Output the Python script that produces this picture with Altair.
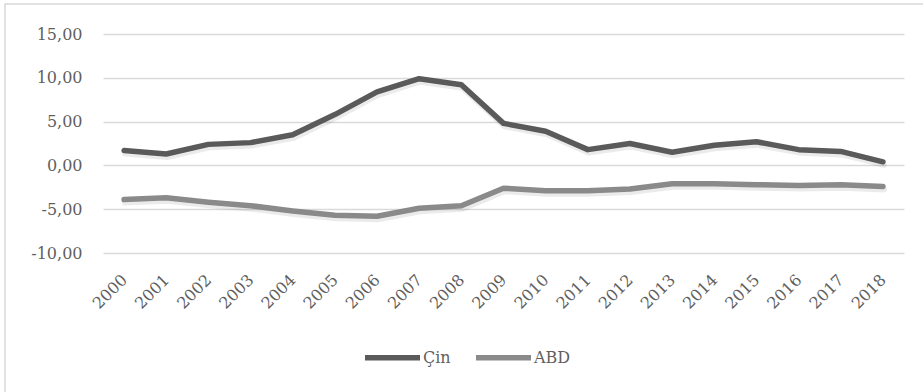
import altair as alt
import pandas as pd

# Current account balance (% of GDP), 2000-2018
years = [str(y) for y in range(2000, 2019)]
cin = [1.7, 1.3, 2.4, 2.6, 3.5, 5.8, 8.4, 9.9, 9.2, 4.8, 3.9, 1.8, 2.5, 1.5, 2.3, 2.7, 1.8, 1.6, 0.4]
abd = [-3.9, -3.7, -4.2, -4.6, -5.2, -5.7, -5.8, -4.9, -4.6, -2.6, -2.9, -2.9, -2.7, -2.1, -2.1, -2.2, -2.3, -2.2, -2.4]
series = ["Çin", "ABD"]
colors = ["#5a5a5a", "#8a8a8a"]

rows = []
for name, vals in zip(series, [cin, abd]):
    for yr, v in zip(years, vals):
        rows.append({"yil": yr, "deger": v, "seri": name})
df = pd.DataFrame(rows)

FONT = "DejaVu Serif"
TXT = "#5f5f5f"
W, H = 801, 219

x_enc = alt.X(
    "yil:O",
    sort=years,
    scale=alt.Scale(type="point", padding=0.5),
    axis=alt.Axis(
        title=None, labelAngle=-45, labelAlign="right", labelBaseline="middle",
        labelPadding=24, ticks=False, domain=False, grid=False,
        labelFont=FONT, labelFontSize=16, labelColor=TXT,
    ),
)
y_enc = alt.Y(
    "deger:Q",
    scale=alt.Scale(domain=[-10, 15], nice=False, zero=False),
    axis=alt.Axis(
        title=None, values=[-10, -5, 0, 5, 10, 15], ticks=False, domain=False,
        labelPadding=21, labelFont=FONT, labelFontSize=16, labelColor=TXT,
        labelExpr="(datum.value < 0 ? '-' : '') + replace(format(abs(datum.value), '.2f'), '.', ',')",
        gridColor="#d9d9d9", gridWidth=1.5,
    ),
)

shadow = alt.Chart(df).mark_line(
    strokeWidth=6, strokeCap="round", strokeJoin="round",
    color="#000000", opacity=0.08, yOffset=3, xOffset=1,
).encode(x=x_enc, y=y_enc, detail="seri:N")

lines = alt.Chart(df).mark_line(
    strokeWidth=5.5, strokeCap="round", strokeJoin="round",
).encode(
    x=x_enc,
    y=y_enc,
    color=alt.Color(
        "seri:N",
        sort=series,
        scale=alt.Scale(domain=series, range=colors),
        legend=alt.Legend(
            title=None, orient="none", direction="horizontal",
            legendX=259, legendY=293,
            symbolType="stroke", symbolSize=3025, symbolStrokeWidth=5.5,
            labelFont=FONT, labelFontSize=16, labelColor=TXT,
            labelOffset=0, columnPadding=14,
        ),
    ),
)

# Light outer frame around the whole chart
frame = alt.Chart(alt.Data(values=[{}])).mark_rect(
    fill=None, stroke="#d9d9d9", strokeWidth=1.5,
).encode(
    x=alt.value(-98), x2=alt.value(W + 40),
    y=alt.value(-30), y2=alt.value(H + 160),
)

chart = alt.layer(frame, shadow, lines).properties(
    width=W, height=H,
    autosize=alt.AutoSizeParams(type="none"),
    padding={"left": 103, "top": 34, "right": 19, "bottom": 139},
    background="white",
).configure_view(stroke=None)

chart.save("out.html", embed_options={"renderer": "svg", "actions": False})
